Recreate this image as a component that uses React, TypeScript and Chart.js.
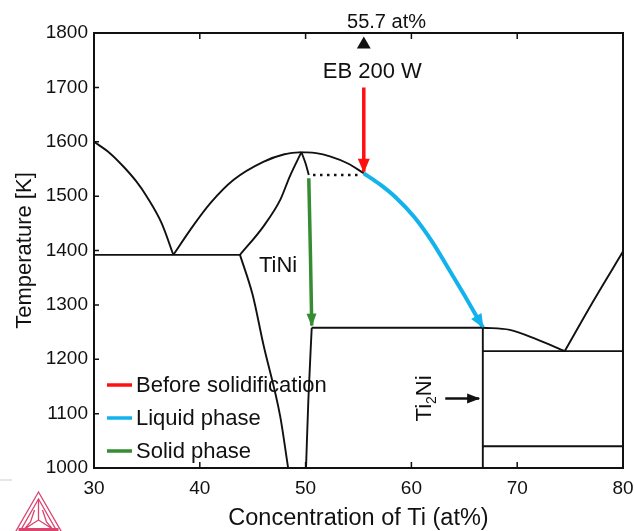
import { useEffect, useRef } from "react";
import { Chart, registerables } from "chart.js";

Chart.register(...registerables);

type P = [number, number];

const X_MIN = 30;
const X_MAX = 80;
const Y_MIN = 1000;
const Y_MAX = 1800;
const X_TICKS = [30, 40, 50, 60, 70, 80];
const Y_TICKS = [1000, 1100, 1200, 1300, 1400, 1500, 1600, 1700, 1800];
const X_TITLE = "Concentration of Ti (at%)";
const Y_TITLE = "Temperature [K]";

// phase boundaries (black)
const liquidusNiSide: P[] = [[30, 1600], [31.5, 1579], [32.8, 1554], [34, 1527], [35, 1499], [36.4, 1450], [37.5, 1392]];
const eutecticNi: P[] = [[30, 1392], [43.8, 1392]];
const liquidusTiNiLeft: P[] = [[37.5, 1392], [39.1, 1438], [41, 1487], [43.2, 1530], [46, 1563], [48, 1577], [49.6, 1581]];
const solidusTiNiLeft: P[] = [[43.8, 1392], [46, 1444], [47.6, 1493], [48.5, 1536], [49.6, 1581]];
const solvusTiNiLeft: P[] = [[43.8, 1392], [45, 1318], [46, 1228], [47.6, 1095], [48.35, 1000]];
const solidusTiNiRight: P[] = [[49.6, 1581], [50.0, 1560], [50.3, 1539]];
const solvusTiNiRight: P[] = [[50.58, 1258], [50.26, 1125], [50.04, 1000]];
const liquidusTiNiRight: P[] = [[49.6, 1581], [51, 1579], [52.3, 1573], [54, 1560], [55.5, 1542]];
const peritecticLine: P[] = [[50.58, 1258], [66.75, 1258]];
const ti2NiLine: P[] = [[66.75, 1258], [66.75, 1000]];
const liquidusTi2Ni: P[] = [[66.75, 1258], [69.3, 1254], [71.8, 1237], [74.5, 1215]];
const liquidusTiSide: P[] = [[74.5, 1215], [77.2, 1307], [80, 1398]];
const eutecticTi: P[] = [[66.75, 1215], [80, 1215]];
const lowerTi2Ni: P[] = [[66.75, 1040], [80, 1040]];
const tieLine: P[] = [[50.7, 1539], [55.1, 1539]];

// solidification path (coloured)
const beforeSolidification: P[] = [[55.5, 1700], [55.5, 1545]];
const liquidPhase: P[] = [[55.5, 1542], [57, 1522], [58.5, 1498], [60.25, 1462], [62, 1415], [63.4, 1370], [65, 1318], [66.75, 1259]];
const solidPhase: P[] = [[50.3, 1533], [50.45, 1400], [50.58, 1262]];
const ti2NiPointer: P[] = [[63.2, 1128], [66.4, 1128]];
const compositionMarker: P[] = [[55.5, 1779]];

const LEGEND_LABELS = ["Before solidification", "Liquid phase", "Solid phase"];
const COMPOSITION_LABEL = "55.7 at%";
const POWER_LABEL = "EB 200 W";
const TINI_LABEL = "TiNi";

const RED = "#ff1010";
const BLUE = "#12b3ec";
const GREEN = "#358c32";
const BLACK = "#111111";
const FONT = '"Liberation Sans", Arial, Helvetica, sans-serif';

const pts = (a: P[]) => a.map(([x, y]) => ({ x, y }));

const blackLine = (d: P[], extra: any = {}) => ({
  data: pts(d),
  showLine: true,
  borderColor: BLACK,
  backgroundColor: BLACK,
  borderWidth: 1.9,
  pointRadius: 0,
  cubicInterpolationMode: "monotone",
  clip: false,
  ...extra,
});

const decor = {
  id: "decor",
  afterDatasetsDraw(chart: any) {
    const { ctx, chartArea: a, scales } = chart;
    const xs = scales.x;
    const ys = scales.y;
    // arrowheads
    chart.data.datasets.forEach((ds: any, i: number) => {
      if (!ds.arrowHead) return;
      const meta = chart.getDatasetMeta(i);
      const n = meta.data.length;
      const p1 = meta.data[n - 2];
      const p2 = meta.data[n - 1];
      const ang = Math.atan2(p2.y - p1.y, p2.x - p1.x);
      const L = ds.arrowHead.len;
      const W = ds.arrowHead.w;
      const c = Math.cos(ang);
      const s = Math.sin(ang);
      ctx.save();
      ctx.fillStyle = ds.borderColor;
      ctx.beginPath();
      ctx.moveTo(p2.x + c * 1, p2.y + s * 1);
      ctx.lineTo(p2.x - L * c + (W / 2) * s, p2.y - L * s - (W / 2) * c);
      ctx.lineTo(p2.x - L * c - (W / 2) * s, p2.y - L * s + (W / 2) * c);
      ctx.closePath();
      ctx.fill();
      ctx.restore();
    });

    ctx.save();
    // frame
    ctx.strokeStyle = BLACK;
    ctx.lineWidth = 2;
    ctx.strokeRect(a.left, a.top, a.right - a.left, a.bottom - a.top);
    // inward ticks
    ctx.lineWidth = 1.5;
    ctx.beginPath();
    X_TICKS.forEach((v) => {
      const px = xs.getPixelForValue(v);
      ctx.moveTo(px, a.bottom);
      ctx.lineTo(px, a.bottom - 6);
      ctx.moveTo(px, a.top);
      ctx.lineTo(px, a.top + 6);
    });
    Y_TICKS.forEach((v) => {
      const py = ys.getPixelForValue(v);
      ctx.moveTo(a.left, py);
      ctx.lineTo(a.left + 5, py);
    });
    ctx.stroke();

    // text annotations
    ctx.fillStyle = BLACK;
    ctx.textBaseline = "middle";
    ctx.textAlign = "center";
    ctx.font = `22px ${FONT}`;
    ctx.fillText(TINI_LABEL, xs.getPixelForValue(47.4), ys.getPixelForValue(1372));
    ctx.fillText(POWER_LABEL, xs.getPixelForValue(56.3), ys.getPixelForValue(1729));
    ctx.font = `20px ${FONT}`;
    ctx.fillText(COMPOSITION_LABEL, xs.getPixelForValue(57.65), ys.getPixelForValue(1820));

    // Ti2Ni rotated label
    const cx = xs.getPixelForValue(61.1);
    const cy = ys.getPixelForValue(1128);
    ctx.save();
    ctx.translate(cx, cy);
    ctx.rotate(-Math.PI / 2);
    ctx.textAlign = "left";
    ctx.textBaseline = "alphabetic";
    ctx.font = `22px ${FONT}`;
    const wTi = ctx.measureText("Ti").width;
    const wNi = ctx.measureText("Ni").width;
    ctx.font = `14px ${FONT}`;
    const w2 = ctx.measureText("2").width;
    const total = wTi + w2 + wNi;
    let x0 = -total / 2;
    const base = 7.5;
    ctx.font = `22px ${FONT}`;
    ctx.fillText("Ti", x0, base);
    x0 += wTi;
    ctx.font = `14px ${FONT}`;
    ctx.fillText("2", x0, base + 5);
    x0 += w2;
    ctx.font = `22px ${FONT}`;
    ctx.fillText("Ni", x0, base);
    ctx.restore();

    // legend
    const colors = [RED, BLUE, GREEN];
    ctx.font = `22px ${FONT}`;
    ctx.textAlign = "left";
    ctx.textBaseline = "middle";
    LEGEND_LABELS.forEach((lab, i) => {
      const yy = a.bottom - 83 + i * 33;
      ctx.strokeStyle = colors[i];
      ctx.lineWidth = 3.5;
      ctx.beginPath();
      ctx.moveTo(a.left + 13, yy);
      ctx.lineTo(a.left + 38, yy);
      ctx.stroke();
      ctx.fillStyle = BLACK;
      ctx.fillText(lab, a.left + 42, yy + 1);
    });
    ctx.restore();
  },
  afterDraw(chart: any) {
    const { ctx } = chart;
    ctx.save();
    // small grey rule
    ctx.strokeStyle = "#cfcfcf";
    ctx.lineWidth = 1;
    ctx.beginPath();
    ctx.moveTo(0, 480);
    ctx.lineTo(12, 480);
    ctx.stroke();
    // logo
    ctx.strokeStyle = "#d9456f";
    ctx.lineWidth = 1.3;
    const ax = 38.5, ay = 492, side = 54;
    const h = side * Math.sin(Math.PI / 3);
    ctx.beginPath();
    ctx.moveTo(ax, ay);
    ctx.lineTo(ax - side / 2, ay + h);
    ctx.lineTo(ax + side / 2, ay + h);
    ctx.closePath();
    ctx.stroke();
    ctx.beginPath();
    ctx.moveTo(ax, ay + 7);
    ctx.lineTo(ax - side / 2 + 6, ay + h - 3);
    ctx.lineTo(ax + side / 2 - 6, ay + h - 3);
    ctx.closePath();
    ctx.stroke();
    const cxl = ax, cyl = ay + 28;
    ctx.beginPath();
    ctx.moveTo(ax, ay + 7);
    ctx.lineTo(cxl, cyl);
    ctx.moveTo(cxl, cyl);
    ctx.lineTo(ax - 14, ay + 37);
    ctx.moveTo(cxl, cyl);
    ctx.lineTo(ax + 14, ay + 37);
    ctx.moveTo(ax - 4, ay + 18);
    ctx.lineTo(ax - 8, cyl + 2);
    ctx.lineTo(ax - 14, ay + 37);
    ctx.moveTo(ax + 4, ay + 18);
    ctx.lineTo(ax + 8, cyl + 2);
    ctx.lineTo(ax + 14, ay + 37);
    ctx.stroke();
    ctx.fillStyle = "#d9456f";
    ctx.fillRect(ax - 20, ay + 36, 40, 4);
    ctx.restore();
  },
};

export default function App() {
  const ref = useRef<HTMLCanvasElement>(null);
  useEffect(() => {
    const datasets: any[] = [
      blackLine(liquidusNiSide),
      blackLine(eutecticNi),
      blackLine(liquidusTiNiLeft),
      blackLine(solidusTiNiLeft),
      blackLine(solvusTiNiLeft),
      blackLine(solidusTiNiRight),
      blackLine(solvusTiNiRight),
      blackLine(liquidusTiNiRight),
      blackLine(peritecticLine),
      blackLine(ti2NiLine),
      blackLine(liquidusTi2Ni),
      blackLine(liquidusTiSide),
      blackLine(eutecticTi),
      blackLine(lowerTi2Ni),
      blackLine(tieLine, { borderDash: [2.5, 4.5], borderWidth: 2.5 }),
      blackLine(ti2NiPointer, { borderWidth: 2.5, arrowHead: { len: 12, w: 10 } }),
      {
        label: LEGEND_LABELS[0],
        data: pts(beforeSolidification),
        showLine: true,
        borderColor: RED,
        backgroundColor: RED,
        borderWidth: 3.5,
        pointRadius: 0,
        clip: false,
        arrowHead: { len: 13, w: 12 },
      },
      {
        label: LEGEND_LABELS[1],
        data: pts(liquidPhase),
        showLine: true,
        borderColor: BLUE,
        backgroundColor: BLUE,
        borderWidth: 4,
        pointRadius: 0,
        cubicInterpolationMode: "monotone",
        clip: false,
        arrowHead: { len: 13, w: 12 },
      },
      {
        label: LEGEND_LABELS[2],
        data: pts(solidPhase),
        showLine: true,
        borderColor: GREEN,
        backgroundColor: GREEN,
        borderWidth: 3.5,
        pointRadius: 0,
        cubicInterpolationMode: "monotone",
        clip: false,
        arrowHead: { len: 12, w: 10 },
      },
      {
        data: pts(compositionMarker),
        showLine: false,
        pointStyle: "triangle",
        pointRadius: 8,
        pointBorderWidth: 0,
        backgroundColor: BLACK,
        borderColor: BLACK,
        clip: false,
      },
    ];

    const chart = new Chart(ref.current!, {
      type: "scatter",
      data: { datasets },
      options: {
        responsive: true,
        maintainAspectRatio: false,
        animation: false,
        events: [],
        layout: { padding: { left: 0, right: 11, top: 33, bottom: 0 } },
        plugins: {
          legend: { display: false },
          tooltip: { enabled: false },
          title: { display: false },
        },
        scales: {
          x: {
            type: "linear",
            min: X_MIN,
            max: X_MAX,
            afterBuildTicks: (s: any) => {
              s.ticks = X_TICKS.map((v) => ({ value: v }));
            },
            afterFit: (s: any) => {
              s.height = 63;
              s.paddingLeft = 0;
              s.paddingRight = 0;
            },
            ticks: {
              color: BLACK,
              font: { family: FONT, size: 19 },
              padding: 9,
              maxRotation: 0,
              callback: (v: any) => String(v),
            },
            grid: { drawOnChartArea: false, drawTicks: false },
            border: { display: false },
            title: {
              display: true,
              text: X_TITLE,
              color: BLACK,
              font: { family: FONT, size: 23.5 },
              padding: { top: 0, bottom: -2 },
            },
          },
          y: {
            type: "linear",
            min: Y_MIN,
            max: Y_MAX,
            afterBuildTicks: (s: any) => {
              s.ticks = Y_TICKS.map((v) => ({ value: v }));
            },
            afterFit: (s: any) => {
              s.width = 94;
              s.paddingTop = 0;
              s.paddingBottom = 0;
            },
            ticks: {
              color: BLACK,
              font: { family: FONT, size: 19 },
              padding: 6,
              callback: (v: any) => String(v),
            },
            grid: { drawOnChartArea: false, drawTicks: false },
            border: { display: false },
            title: {
              display: true,
              text: Y_TITLE,
              color: BLACK,
              font: { family: FONT, size: 22 },
              padding: { top: 12, bottom: 0 },
            },
          },
        },
      },
      plugins: [decor],
    } as any);
    return () => chart.destroy();
  }, []);

  return (
    <div style={{ position: "absolute", left: 0, top: 0, width: 634, height: 531 }}>
      <canvas ref={ref} />
    </div>
  );
}
